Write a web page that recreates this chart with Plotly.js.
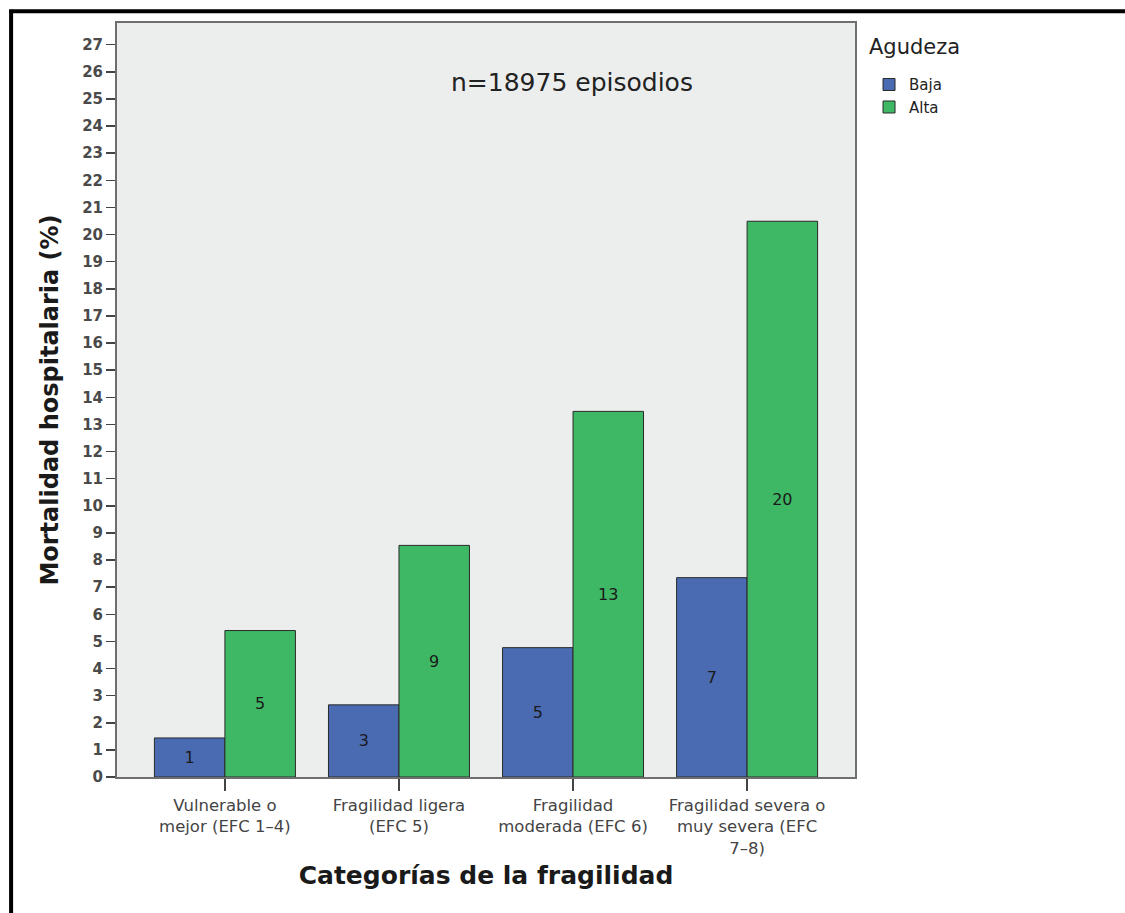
<!DOCTYPE html>
<html>
<head>
<meta charset="utf-8">
<script src="https://cdn.plot.ly/plotly-3.0.1.min.js"></script>
<style>
  html, body { margin: 0; padding: 0; background: #ffffff; }
  #chart { width: 1125px; height: 913px; }
</style>
</head>
<body>
<div id="chart"></div>
<script>
const categories = [
  "Vulnerable o<br>mejor (EFC 1–4)",
  "Fragilidad ligera<br>(EFC 5)",
  "Fragilidad<br>moderada (EFC 6)",
  "Fragilidad severa o<br>muy severa (EFC<br>7–8)"
];
const seriesNames = ["Baja", "Alta"];
const bajaValues = [1.44, 2.66, 4.77, 7.35];
const altaValues = [5.40, 8.54, 13.48, 20.49];
const bajaLabels = ["1", "3", "5", "7"];
const altaLabels = ["5", "9", "13", "20"];
const yTickValues = [0,1,2,3,4,5,6,7,8,9,10,11,12,13,14,15,16,17,18,19,20,21,22,23,24,25,26,27];
const annotationText = "n=18975 episodios";
const legendTitle = "Agudeza";

const FONT = "DejaVu Sans, Verdana, sans-serif";

function barTrace(name, values, labels, color) {
  return {
    type: "bar",
    name: name,
    x: categories,
    y: values,
    text: labels,
    textposition: "inside",
    insidetextanchor: "middle",
    textangle: 0,
    textfont: { family: FONT, size: 16, color: "#1a1a1a" },
    marker: { color: color, line: { color: "#2a2a2a", width: 1 } },
    hoverinfo: "x+y+name"
  };
}

const data = [
  barTrace(seriesNames[0], bajaValues, bajaLabels, "#4a6bb1"),
  barTrace(seriesNames[1], altaValues, altaLabels, "#3fb865")
];

const layout = {
  width: 1125,
  height: 913,
  margin: { l: 117, r: 270, t: 23, b: 136, pad: 0 },
  paper_bgcolor: "#ffffff",
  plot_bgcolor: "#eceeed",
  font: { family: FONT, color: "#333" },
  barmode: "group",
  bargap: 0.19,
  bargroupgap: 0,
  showlegend: true,
  legend: {
    x: 1.019, xanchor: "left",
    y: 0.9400, yanchor: "top",
    font: { family: FONT, size: 15, color: "#222" },
    itemwidth: 30,
    tracegroupgap: 0,
    bgcolor: "rgba(0,0,0,0)"
  },
  xaxis: {
    type: "category",
    range: [-0.62, 3.62],
    autorange: false,
    showgrid: false,
    zeroline: false,
    showline: true,
    mirror: true,
    linecolor: "#6e6e6e",
    linewidth: 2,
    ticks: "outside",
    ticklen: 12,
    tickwidth: 1.5,
    tickcolor: "#444",
    tickfont: { family: FONT, size: 16.5, color: "#444" },
    title: {
      text: "Categorías de la fragilidad",
      font: { family: FONT, size: 25, color: "#1a1a1a", weight: "bold" },
      standoff: 10
    },
    automargin: false
  },
  yaxis: {
    range: [0, 27.8],
    autorange: false,
    tickvals: yTickValues,
    ticktext: yTickValues.map(String),
    showgrid: false,
    zeroline: false,
    showline: true,
    mirror: true,
    linecolor: "#6e6e6e",
    linewidth: 2,
    ticks: "outside",
    ticklen: 9,
    tickwidth: 1.5,
    tickcolor: "#444",
    tickfont: { family: FONT, size: 15, color: "#4a4a4a", weight: "bold" },
    title: {
      text: "Mortalidad hospitalaria (%)",
      font: { family: FONT, size: 24, color: "#1a1a1a", weight: "bold" },
      standoff: 17
    },
    automargin: false
  },
  annotations: [
    {
      text: annotationText,
      xref: "paper", yref: "paper",
      x: 0.6165, y: 0.921,
      xanchor: "center", yanchor: "middle",
      showarrow: false,
      font: { family: FONT, size: 25, color: "#222" }
    },
    {
      text: legendTitle,
      xref: "paper", yref: "paper",
      x: 1.0165, y: 0.968,
      xanchor: "left", yanchor: "middle",
      showarrow: false,
      font: { family: FONT, size: 21, color: "#222" }
    }
  ],
  shapes: [
    { type: "line", xref: "paper", yref: "paper",
      x0: -0.146, x1: 1.37, y0: 1.0155, y1: 1.0155,
      line: { color: "#000", width: 4 } },
    { type: "line", xref: "paper", yref: "paper",
      x0: -0.1435, x1: -0.1435, y0: 1.0175, y1: -0.19,
      line: { color: "#000", width: 4 } }
  ]
};

Plotly.newPlot("chart", data, layout, { displayModeBar: false, staticPlot: true });
</script>
</body>
</html>
